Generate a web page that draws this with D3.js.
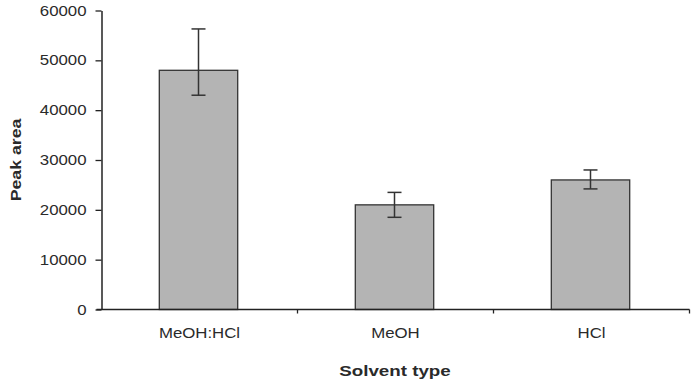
<!DOCTYPE html>
<html>
<head>
<meta charset="utf-8">
<script src="https://cdn.jsdelivr.net/npm/d3@7"></script>
<style>
  body { margin: 0; background: #fff; }
  svg { display: block; }
  text { font-family: "Liberation Sans", Arial, sans-serif; fill: #2a2a2a; }
</style>
</head>
<body>
<svg id="chart" width="695" height="379"></svg>
<script>
const categories = ["MeOH:HCl", "MeOH", "HCl"];
const values = [48000, 21000, 26000];
const errorHigh = [56300, 23500, 28000];
const errorLow = [43000, 18500, 24200];
const yTicks = [0, 10000, 20000, 30000, 40000, 50000, 60000];

const svg = d3.select("#chart");
const x0 = 101.5, x1 = 689.5, yTop = 10.5, yBottom = 309.5;

const x = d3.scaleBand().domain(categories).range([x0, x1]).padding(0);
const y = d3.scaleLinear().domain([0, 60000]).range([yBottom, yTop]);

function stretch(sel, k) {
  sel.each(function() {
    const len = this.getComputedTextLength();
    d3.select(this).attr("textLength", len * k).attr("lengthAdjust", "spacingAndGlyphs");
  });
}

// bars
const barW = x.bandwidth() * 0.4;
svg.append("g").selectAll("rect").data(categories).join("rect")
  .attr("x", (d) => x(d) + x.bandwidth() / 2 - barW / 2 - 1)
  .attr("y", (d, i) => y(values[i]))
  .attr("width", barW)
  .attr("height", (d, i) => y(0) - y(values[i]))
  .attr("fill", "#b4b4b4")
  .attr("stroke", "#333")
  .attr("stroke-width", 1.3);

// error bars
const eb = svg.append("g").attr("stroke", "#333").attr("stroke-width", 1.5).attr("fill", "none");
categories.forEach((c, i) => {
  const cx = x(c) + x.bandwidth() / 2 - 1;
  eb.append("line").attr("x1", cx).attr("x2", cx).attr("y1", y(errorHigh[i])).attr("y2", y(errorLow[i]));
  eb.append("line").attr("x1", cx - 7).attr("x2", cx + 7).attr("y1", y(errorHigh[i])).attr("y2", y(errorHigh[i]));
  eb.append("line").attr("x1", cx - 7).attr("x2", cx + 7).attr("y1", y(errorLow[i])).attr("y2", y(errorLow[i]));
});

// y axis
const yAxis = svg.append("g").attr("transform", `translate(${x0},0)`)
  .call(d3.axisLeft(y).tickValues(yTicks).tickFormat(d3.format("d")).tickSize(6).tickPadding(9).tickSizeOuter(0));
yAxis.select(".domain").attr("stroke", "#222").attr("stroke-width", 1.5);
yAxis.selectAll(".tick line").attr("stroke", "#222").attr("stroke-width", 1.3);
yAxis.selectAll(".tick text").style("font-size", "15px").attr("fill", "#2a2a2a").attr("dy", "0.3em")
  .call(stretch, 1.12);

// x axis
const xAxis = svg.append("g").attr("transform", `translate(0,${yBottom})`);
xAxis.append("line").attr("x1", x0 - 5).attr("x2", x1).attr("y1", 0).attr("y2", 0)
  .attr("stroke", "#222").attr("stroke-width", 1.5);
const bounds = categories.map((c) => x(c)).concat([x1]);
xAxis.selectAll("line.tk").data(bounds.slice(1)).join("line").attr("class", "tk")
  .attr("x1", (d) => d).attr("x2", (d) => d).attr("y1", 0).attr("y2", 4)
  .attr("stroke", "#222").attr("stroke-width", 1.3);
xAxis.selectAll("text").data(categories).join("text")
  .attr("x", (d) => x(d) + x.bandwidth() / 2)
  .attr("y", 28)
  .attr("text-anchor", "middle")
  .style("font-size", "15px")
  .text((d) => d)
  .call(stretch, 1.12);

// axis titles
svg.append("text")
  .attr("transform", `translate(21,${(yTop + yBottom) / 2}) rotate(-90)`)
  .attr("text-anchor", "middle")
  .style("font-size", "15px").style("font-weight", "bold")
  .text("Peak area")
  .call(stretch, 1.18);

svg.append("text")
  .attr("x", 395)
  .attr("y", 376)
  .attr("text-anchor", "middle")
  .style("font-size", "15px").style("font-weight", "bold")
  .text("Solvent type")
  .call(stretch, 1.25);
</script>
</body>
</html>
